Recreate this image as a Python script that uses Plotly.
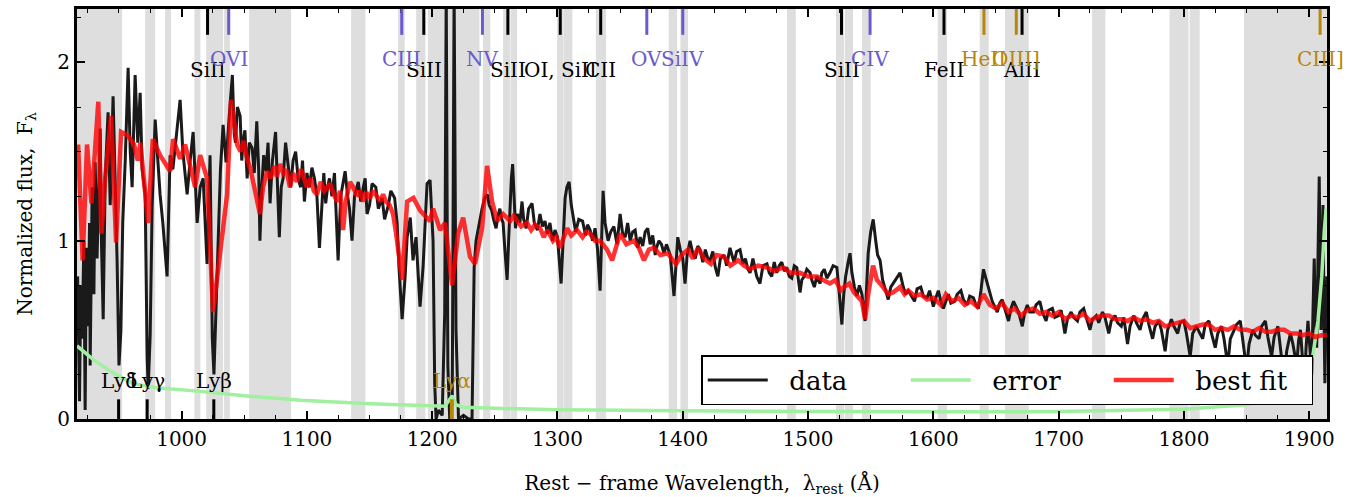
import plotly.graph_objects as go

# observed spectrum (rest frame)
wave_data = [917, 918.5, 919.5, 920.6, 922, 923, 924, 925.4, 926.5, 927, 928.6, 930, 931, 932.5,
             935, 936, 937.4, 939, 941.3, 943, 945.3, 947, 948.5, 950, 951.5, 953, 955, 957.3, 959,
             960.5, 962.9, 965, 966.9, 968.5, 970.9, 972.5, 973.3, 974.9, 976.5, 978.9, 981, 982.8,
             985, 988.4, 990.8, 993, 996.4, 998.8, 1001, 1004.4, 1006.8, 1009.2, 1012.4, 1014.8,
             1017.2, 1020.3, 1022.7, 1024.5, 1025.8, 1027.5, 1029.1, 1031, 1033.1, 1035.5, 1038,
             1040.5, 1042, 1043, 1044.5, 1046.7, 1048, 1049, 1050.5, 1052.3, 1054, 1056.3, 1058,
             1060, 1061.5, 1062.5, 1064, 1065.5, 1067.4, 1069, 1070.6, 1072.5, 1075, 1076.5, 1078,
             1079.5, 1081, 1083, 1085, 1087, 1089, 1091, 1093, 1095, 1096.5, 1098, 1100, 1102, 1104,
             1106, 1108, 1110, 1112, 1113.5, 1115, 1116.5, 1118, 1120, 1122, 1124.9, 1127, 1128.5,
             1130.5, 1132.5, 1134, 1136, 1138, 1141, 1143, 1145, 1146.5, 1148, 1150, 1152, 1155,
             1157, 1160, 1162, 1165, 1167, 1170, 1172, 1173.5, 1176, 1178.4, 1180, 1182.5, 1184.7,
             1187.1, 1190.3, 1192.7, 1195.9, 1198.3, 1200.7, 1202, 1203.1, 1205, 1208, 1210, 1211.2,
             1212.5, 1214, 1216, 1217.5, 1219, 1221, 1225, 1229, 1231.8, 1233.5, 1235, 1236.6, 1238,
             1239.8, 1242, 1244, 1245.5, 1247.5, 1249, 1251, 1252.5, 1254, 1255.5, 1256.6, 1258,
             1259.8, 1261, 1262.2, 1263.2, 1264.2, 1265.3, 1266.5, 1268, 1270, 1271.7, 1273, 1275,
             1277, 1279.7, 1281.5, 1284, 1286, 1288, 1290, 1292, 1294, 1296, 1298, 1300, 1301.5,
             1302.9, 1304.5, 1306.1, 1307.5, 1309.3, 1311, 1312.5, 1314.5, 1317, 1320, 1322.5, 1324,
             1326, 1328, 1330, 1332, 1334, 1335.2, 1336.4, 1338, 1340.4, 1342.5, 1345, 1347.5, 1350,
             1352, 1354, 1356, 1358, 1360, 1362, 1364, 1366, 1368, 1370, 1372, 1374, 1376, 1378,
             1379, 1381, 1383, 1385, 1387, 1390, 1393, 1394.5, 1396, 1398, 1400, 1401.8, 1403.5,
             1405.8, 1408, 1410, 1412, 1413.8, 1416, 1418, 1420, 1421.7, 1424, 1426, 1428, 1430,
             1433, 1435, 1437.7, 1440, 1441, 1443, 1445.7, 1448, 1450, 1452, 1453.7, 1456, 1457,
             1459, 1461.6, 1464, 1467.2, 1469, 1471, 1473, 1475, 1477, 1479, 1481, 1483, 1485, 1487,
             1489, 1491, 1492.5, 1493.6, 1495, 1497, 1499, 1501.6, 1503, 1505, 1507, 1509.6, 1511,
             1513, 1515, 1517.5, 1520, 1523, 1525, 1527, 1528.5, 1530, 1532, 1533.5, 1535, 1537,
             1539, 1541, 1543, 1545.5, 1547, 1548, 1550, 1552, 1554, 1555.5, 1557.5, 1559.5, 1562,
             1564, 1566, 1568, 1570.5, 1573.4, 1576, 1578, 1580, 1583, 1585, 1587, 1590, 1592, 1595,
             1597, 1600, 1602, 1604, 1606, 1608, 1610, 1612, 1614, 1617, 1619, 1622, 1624, 1627,
             1629, 1632, 1634, 1636, 1638, 1640, 1641.5, 1643, 1645, 1647, 1649, 1651, 1653, 1655,
             1657, 1660, 1662, 1664, 1666, 1668, 1669.5, 1671, 1673, 1675, 1677, 1680, 1682, 1685,
             1687, 1690, 1692, 1695, 1697, 1700, 1702, 1705, 1707, 1710, 1712, 1715, 1717, 1720,
             1722, 1725, 1727, 1730, 1732, 1735, 1737, 1740, 1742, 1745, 1747, 1750, 1752, 1755,
             1757, 1760, 1762, 1765, 1767, 1770, 1772, 1775, 1777, 1780, 1782, 1785, 1787, 1790,
             1792, 1795, 1797, 1800, 1802, 1805, 1807, 1810, 1812, 1815, 1817, 1820, 1822, 1825,
             1827, 1830, 1832, 1835, 1837, 1840, 1842, 1845, 1847, 1850, 1852, 1855, 1857, 1860,
             1862, 1865, 1867, 1870, 1872, 1875, 1877, 1880, 1882, 1885, 1887, 1890, 1891.5, 1893,
             1894.5, 1896, 1897.5, 1899, 1900.5, 1902, 1903, 1904, 1905, 1906, 1907, 1908, 1908.8,
             1909.5, 1910.2, 1911, 1911.8, 1912.5, 1913.2, 1914]
flux_data = [0.80, 0.10, 0.75, 0.45, 1.00, 0.05, 0.96, 0.52, 1.10, 0.30, 1.30, 0.70, 1.44, 0.90,
             1.63, 1.00, 0.56, 1.35, 1.72, 1.20, 1.81, 1.35, 0.89, 0.30, 0.49, 1.10, 1.45, 1.97, 1.50,
             1.30, 1.93, 1.55, 1.83, 1.40, 1.26, 0.35, 0.17, 0.47, 1.20, 1.68, 1.45, 1.26,
             1.10, 0.80, 1.48, 1.40, 1.63, 1.79, 1.50, 1.26, 1.45, 1.61, 1.10, 1.30,
             1.35, 0.87, 1.48, 0.45, 0.25, 0.60, 0.96, 1.40, 1.65, 1.44, 1.70,
             1.93, 1.60, 1.55, 1.75, 1.70, 1.45, 1.55, 1.62, 1.35, 1.55, 1.52, 1.38,
             1.67, 1.40, 1.00, 1.30, 1.48, 1.39, 1.55, 1.21, 1.45, 1.61, 1.30, 1.02,
             1.30, 1.35, 1.55, 1.41, 1.30, 1.45, 1.50, 1.35, 1.30, 1.45, 1.22, 1.38, 1.30, 1.41,
             1.35, 1.25, 0.96, 1.20, 1.38, 1.21, 1.30, 1.35, 1.25, 1.38, 0.89, 1.25, 1.32,
             1.39, 1.25, 1.18, 1.00, 1.25, 1.33, 1.22, 1.30, 1.35, 1.15, 1.20, 1.32, 1.30,
             1.18, 1.24, 1.12, 1.20, 1.28, 1.24, 1.10, 0.85, 0.56, 0.80, 1.02, 1.13, 0.89,
             1.02, 0.63, 0.85, 1.32, 1.34, 1.00, 0.20, 0.00, 0.05, 0.02, 0.60, 2.40,
             0.30, 0.00, 0.10, 2.40, 0.50, 0.00, 0.02, 0.00, 0.00, 0.85, 1.00, 1.06, 1.12,
             1.18, 1.24, 1.26, 1.20, 1.17, 1.12, 1.07, 1.14, 1.18, 1.12, 1.10, 0.95,
             0.78, 1.00, 1.22, 1.35, 1.43, 1.25, 1.07, 1.15, 1.10, 1.22, 1.12, 1.07,
             1.18, 1.21, 1.10, 1.06, 1.15, 1.08, 1.11, 1.04, 1.10, 1.00, 1.06, 1.02, 0.90,
             0.76, 1.00, 1.24, 1.30, 1.33, 1.20, 1.13, 1.05, 1.12, 1.11, 1.03, 1.09,
             1.06, 1.00, 1.07, 0.95, 0.72, 1.00, 1.28, 1.10, 1.00, 1.05, 1.08, 0.98, 1.15,
             1.04, 1.02, 1.10, 1.00, 1.05, 1.06, 0.96, 1.02, 0.97, 1.05, 1.07, 0.98, 1.03, 0.92,
             0.96, 1.00, 0.98, 0.93, 0.98, 0.92, 0.69, 0.85, 1.02, 0.95, 0.90, 0.76, 0.92,
             1.00, 0.93, 0.90, 0.97, 0.95, 0.88, 0.95, 0.90, 0.89, 0.94, 0.85, 0.80, 0.90,
             0.92, 0.86, 0.96, 0.90, 0.88, 0.94, 0.95, 0.87, 0.90, 0.84, 0.82, 0.90, 0.86,
             0.80, 0.76, 0.86, 0.87, 0.82, 0.80, 0.88, 0.82, 0.86, 0.88, 0.83, 0.85, 0.80, 0.79,
             0.86, 0.85, 0.78, 0.71, 0.78, 0.80, 0.84, 0.82, 0.78, 0.74, 0.80, 0.76, 0.82,
             0.84, 0.79, 0.82, 0.86, 0.85, 0.70, 0.53, 0.70, 0.80, 0.88, 0.93, 0.82, 0.74,
             0.69, 0.75, 0.70, 0.55, 0.78, 0.93, 1.05, 1.12, 1.00, 0.92, 0.89, 0.78, 0.72,
             0.67, 0.74, 0.76, 0.79, 0.82, 0.74, 0.70, 0.72, 0.68, 0.66, 0.73, 0.74, 0.69, 0.68,
             0.72, 0.63, 0.68, 0.72, 0.66, 0.62, 0.66, 0.70, 0.65, 0.66, 0.70, 0.72, 0.67, 0.64,
             0.69, 0.68, 0.64, 0.62, 0.72, 0.84, 0.80, 0.76, 0.70, 0.66, 0.63, 0.60, 0.65, 0.67,
             0.62, 0.55, 0.62, 0.66, 0.63, 0.60, 0.56, 0.52, 0.60, 0.64, 0.60, 0.60, 0.64, 0.66,
             0.60, 0.55, 0.61, 0.62, 0.57, 0.58, 0.61, 0.48, 0.56, 0.60, 0.57, 0.55, 0.60, 0.62,
             0.57, 0.50, 0.56, 0.58, 0.54, 0.60, 0.57, 0.48, 0.55, 0.58, 0.54, 0.52, 0.57, 0.42,
             0.52, 0.58, 0.54, 0.50, 0.56, 0.60, 0.53, 0.45, 0.52, 0.55, 0.50, 0.38, 0.50, 0.56,
             0.52, 0.48, 0.54, 0.55, 0.48, 0.35, 0.48, 0.52, 0.49, 0.45, 0.53, 0.55, 0.48, 0.40,
             0.48, 0.52, 0.45, 0.30, 0.45, 0.50, 0.53, 0.55, 0.45, 0.28, 0.42, 0.50, 0.47, 0.45,
             0.52, 0.55, 0.46, 0.35, 0.46, 0.52, 0.40, 0.22, 0.38, 0.48, 0.42, 0.30, 0.44, 0.50,
             0.35, 0.18, 0.40, 0.55, 0.40, 0.25, 0.60, 0.90, 0.55, 0.40, 0.90, 1.36, 0.80,
             0.50, 0.90, 1.20, 0.60, 0.20, 0.50, 0.80]

# flux uncertainty
wave_err = [916.5, 930, 945, 961, 980, 1000, 1015, 1050, 1095, 1150, 1200, 1210, 1213, 1216,
            1219, 1225, 1250, 1300, 1400, 1500, 1600, 1700, 1750, 1800, 1850, 1880, 1895, 1903,
            1907, 1910, 1912, 1913.5]
flux_err = [0.41, 0.33, 0.26, 0.20, 0.175, 0.165, 0.155, 0.13, 0.105, 0.085, 0.074, 0.072, 0.10,
            0.13, 0.08, 0.066, 0.06, 0.052, 0.046, 0.042, 0.040, 0.042, 0.048, 0.055, 0.08, 0.14,
            0.25, 0.36, 0.55, 0.80, 1.05, 1.18]

# best-fit model
wave_fit = [917.4, 919, 921, 924.5, 928, 933.5, 936, 939, 943.7, 947.7, 951.7, 957, 962, 965, 967,
            973.3, 977, 982.8, 990.8, 993.2, 998.8, 1002.8, 1010.8, 1014.8, 1020.3, 1025.1, 1032.3,
            1036.3, 1039.5, 1044.3, 1047, 1049.5, 1052.3, 1055, 1058, 1060.5, 1062.5, 1065, 1068.2,
            1071, 1074, 1076, 1078.5, 1081, 1083.5, 1086.5, 1089, 1092, 1095, 1097, 1100, 1103,
            1105.5, 1108, 1111, 1114, 1118.5, 1121, 1124, 1126.5, 1128.9, 1131, 1134.4, 1137, 1140,
            1142.5, 1145, 1147.5, 1150.4, 1153, 1156, 1158.5, 1160.8, 1163, 1166, 1168.8, 1171,
            1173.5, 1176, 1180, 1185, 1190.3, 1198.3, 1200.7, 1206.3, 1210.3, 1215.9, 1220.7,
            1224.7, 1230.2, 1234.2, 1239.8, 1243.8, 1247.8, 1251.8, 1256.6, 1262.2, 1265, 1267.8,
            1271, 1275.7, 1279, 1282, 1286.1, 1289, 1292, 1296.4, 1299, 1302, 1307.7, 1311, 1315.6,
            1320, 1323, 1326, 1330, 1334, 1339.6, 1343.6, 1350, 1355, 1361, 1365, 1369, 1373, 1377,
            1382, 1388.3, 1391, 1394.7, 1399, 1404.2, 1408, 1412.2, 1417, 1422.5, 1427, 1432.9,
            1438, 1444.1, 1449, 1453.7, 1460, 1467.2, 1473, 1480, 1486, 1493.6, 1500, 1507.2, 1512,
            1517.5, 1522, 1526, 1528.7, 1533, 1536.7, 1540, 1543, 1545.5, 1548, 1551.9, 1555,
            1559.9, 1564, 1567.8, 1573.4, 1577, 1580, 1585, 1590, 1595, 1600, 1606, 1610, 1615,
            1620, 1625, 1630, 1635, 1640, 1645, 1650, 1655, 1660, 1665, 1670, 1675, 1680, 1685,
            1690, 1695, 1700, 1705, 1710, 1715, 1720, 1725, 1730, 1735, 1740, 1745, 1750, 1755,
            1760, 1765, 1770, 1775, 1780, 1785, 1790, 1795, 1800, 1805, 1810, 1815, 1820, 1825,
            1830, 1835, 1840, 1845, 1850, 1855, 1860, 1865, 1870, 1875, 1880, 1885, 1890, 1895,
            1900, 1905, 1910, 1914]
flux_fit = [1.54, 1.30, 0.89, 1.54, 1.21, 1.78, 1.04, 1.35, 1.70, 0.99, 1.61, 1.59, 1.54, 1.45,
            1.55, 1.10, 1.57, 1.48, 1.39, 1.57, 1.46, 1.54, 1.30, 1.48, 1.35, 0.60, 1.00, 1.26,
            1.79, 1.54, 1.50, 1.56, 1.46, 1.40, 1.30, 1.20, 1.15, 1.30, 1.39,
            1.35, 1.42, 1.36, 1.43, 1.38, 1.40, 1.30, 1.38, 1.33, 1.40, 1.37, 1.30, 1.35,
            1.28, 1.26, 1.33, 1.28, 1.32, 1.27, 1.22, 1.28, 1.06, 1.22, 1.33, 1.30, 1.25,
            1.28, 1.22, 1.27, 1.24, 1.28, 1.24, 1.22, 1.26, 1.22, 1.20, 1.15, 1.05,
            0.90, 0.78, 1.22, 1.24, 1.17, 1.11, 1.18, 1.06, 1.10, 0.75, 1.04,
            1.13, 0.91, 0.87, 1.07, 1.42, 1.22, 1.11, 1.15, 1.11, 1.14, 1.11,
            1.08, 1.10, 1.06, 1.09, 1.07, 1.02, 1.06, 1.00, 1.02, 0.96, 1.07, 1.03, 1.06,
            1.02, 1.05, 1.04, 1.00, 1.00, 0.95, 0.89, 1.04, 0.98, 1.00, 0.96, 0.89, 0.95, 0.96,
            0.92, 0.93, 0.90, 0.87, 0.92, 0.95, 0.90, 0.96, 0.90, 0.87, 0.92, 0.91,
            0.86, 0.89, 0.86, 0.84, 0.86, 0.85, 0.83, 0.85, 0.82, 0.82, 0.80, 0.80, 0.78,
            0.76, 0.78, 0.72, 0.74, 0.76, 0.71, 0.68, 0.66, 0.56, 0.70, 0.86, 0.78,
            0.74, 0.70, 0.71, 0.74, 0.70, 0.72, 0.69, 0.70, 0.67, 0.68, 0.64, 0.70, 0.66,
            0.68, 0.64, 0.66, 0.63, 0.70, 0.64, 0.62, 0.65, 0.60, 0.62, 0.58, 0.61, 0.62, 0.59,
            0.60, 0.58, 0.60, 0.56, 0.58, 0.57, 0.59, 0.55, 0.57, 0.58, 0.58, 0.56, 0.56, 0.55,
            0.57, 0.55, 0.56, 0.54, 0.55, 0.52, 0.53, 0.54, 0.55, 0.51, 0.52, 0.53, 0.53, 0.50,
            0.51, 0.50, 0.52, 0.50, 0.50, 0.49, 0.51, 0.49, 0.49, 0.50, 0.50, 0.48, 0.48, 0.47,
            0.48, 0.46, 0.47, 0.47]

# masked wavelength windows (grey)
mask_lo = [916.5, 970.9, 986.8, 1010.2, 1019.6, 1033.9, 1053.9, 1135.3, 1172.8, 1187.2, 1196.5,
           1240.6, 1256.6, 1262.7, 1299.7, 1304.7, 1330.6, 1388.8, 1398.1, 1483.2, 1522.3, 1529.3,
           1543.1, 1603.5, 1637.0, 1657.2, 1726.7, 1788.5, 1804.6, 1848.0]
mask_hi = [952.5, 978.9, 991.6, 1015.0, 1033.1, 1038.5, 1087.4, 1146.7, 1178.1, 1194.6, 1237.7,
           1246.4, 1262.4, 1267.8, 1304.5, 1311.9, 1338.8, 1395.5, 1404.2, 1490.2, 1528.7, 1535.9,
           1550.0, 1610.9, 1644.2, 1676.1, 1737.3, 1803.7, 1812.6, 1914.5]

# line markers
low_wave = [1020.7, 1193.3, 1260.4, 1302.2, 1334.5, 1526.7, 1608.5, 1670.8]
low_name = ["SiII", "SiII", "SiII", "OI, SiII", "CII", "SiII", "FeII", "AlII"]
high_wave = [1037.6, 1175.7, 1240.1, 1371.3, 1400.0, 1549.5]
high_name = ["OVI", "CIII", "NV", "OV", "SiIV", "CIV"]
em_wave = [1640.4, 1666.2, 1908.7]
em_name = ["HeII", "OIII]", "CIII]"]
ly_wave = [949.7, 972.5, 1025.7]
ly_name = ["Lyδ", "Lyγ", "Lyβ"]
lya_wave = 1215.7

BLUE = "#6a5acd"
GOLD = "#b8860b"
FONT = "DejaVu Serif"
GAP = "\u00a0\u00a0"

fig = go.Figure()
fig.add_trace(go.Scatter(x=wave_data, y=flux_data, mode="lines", name=GAP + "data",
                         line=dict(color="#1a1a1a", width=3)))
fig.add_trace(go.Scatter(x=wave_err, y=flux_err, mode="lines", name=GAP + "error",
                         line=dict(color="#a0f0a0", width=3.5)))
fig.add_trace(go.Scatter(x=wave_fit, y=flux_fit, mode="lines", name=GAP + "best fit",
                         line=dict(color="rgba(255,0,0,0.8)", width=4.5)))

shapes = []
for lo, hi in zip(mask_lo, mask_hi):
    shapes.append(dict(type="rect", xref="x", yref="paper", x0=lo, x1=hi, y0=0, y1=1,
                       fillcolor="#dedede", line=dict(width=0), layer="below"))

annots = []
def top_marker(w, name, color, ylab):
    shapes.append(dict(type="line", xref="x", yref="paper", x0=w, x1=w, y0=0.937, y1=1,
                       line=dict(color=color, width=3)))
    annots.append(dict(x=w, y=ylab, xref="x", yref="paper", text=name, showarrow=False,
                       yanchor="middle", font=dict(family=FONT, size=20, color=color)))

for w, n in zip(low_wave, low_name):
    top_marker(w, n, "black", 0.851)
for w, n in zip(high_wave, high_name):
    top_marker(w, n, BLUE, 0.877)
for w, n in zip(em_wave, em_name):
    top_marker(w, n, GOLD, 0.877)

for w, n in zip(ly_wave, ly_name):
    shapes.append(dict(type="line", xref="x", yref="paper", x0=w, x1=w, y0=0, y1=0.048,
                       line=dict(color="black", width=3)))
    annots.append(dict(x=w, y=0.092, xref="x", yref="paper", text=n, showarrow=False,
                       yanchor="middle", font=dict(family=FONT, size=20, color="black")))
shapes.append(dict(type="line", xref="x", yref="paper", x0=lya_wave, x1=lya_wave, y0=0, y1=0.048,
                   line=dict(color=GOLD, width=4)))
annots.append(dict(x=lya_wave, y=0.092, xref="x", yref="paper", text="Lyα", showarrow=False,
                   yanchor="middle", font=dict(family=FONT, size=20, color=GOLD)))

axis_common = dict(showline=True, linecolor="black", linewidth=3, mirror="allticks",
                   ticks="inside", ticklen=8, tickwidth=1.5, tickcolor="black",
                   showgrid=False, zeroline=False,
                   tickfont=dict(family=FONT, size=20, color="black"))

fig.update_layout(
    width=1357, height=497,
    margin=dict(l=77, r=30, t=6, b=76),
    plot_bgcolor="white", paper_bgcolor="white",
    font=dict(family=FONT, size=20, color="black"),
    xaxis=dict(range=[916.5, 1914.2], tickvals=[1000, 1100, 1200, 1300, 1400, 1500, 1600, 1700, 1800, 1900],
               minor=dict(dtick=25, tick0=1000, ticks="inside", ticklen=4, tickwidth=1.2, tickcolor="black"),
               title=dict(text="Rest − frame Wavelength,  λ<sub>rest</sub> (Å)",
                          font=dict(family=FONT, size=20), standoff=26),
               **axis_common),
    yaxis=dict(range=[0, 2.3], tickvals=[0, 1, 2],
               minor=dict(dtick=0.25, ticks="inside", ticklen=4, tickwidth=1.2, tickcolor="black"),
               title=dict(text="Normalized flux,  F<sub>λ</sub>",
                          font=dict(family=FONT, size=20), standoff=20),
               **axis_common),
    legend=dict(orientation="h", x=0.989, xanchor="right", y=0.034, yanchor="bottom",
                bgcolor="white", bordercolor="black", borderwidth=1.5,
                font=dict(family=FONT, size=26), itemwidth=60, entrywidth=128),
    shapes=shapes,
    annotations=annots,
)

fig.write_html("out.html", config={"displayModeBar": False},
               post_script="document.body.style.margin='0';")
